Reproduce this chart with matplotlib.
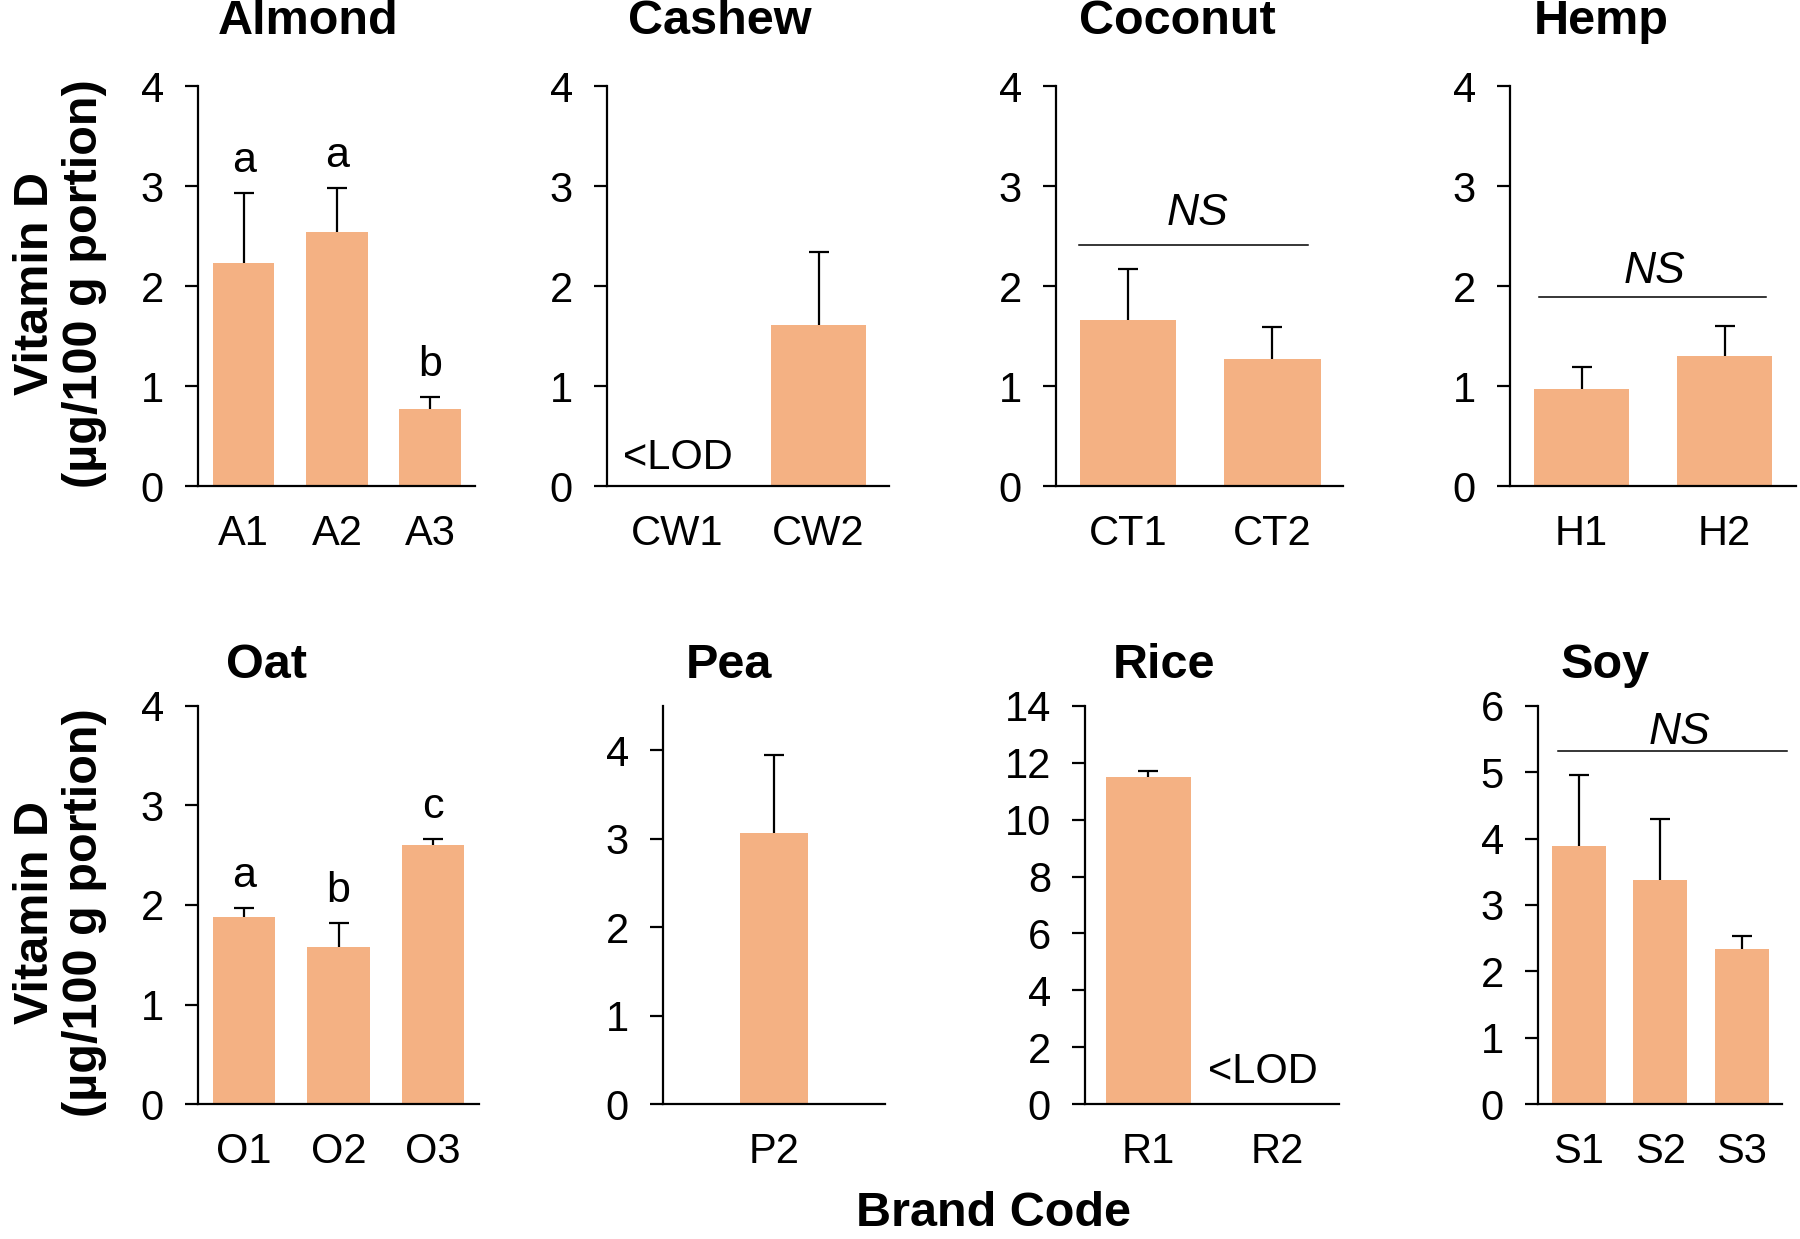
import matplotlib.pyplot as plt

plt.rcParams['font.family'] = ['Liberation Sans', 'DejaVu Sans']

BAR_COLOR = '#F4B183'
W, H = 1800, 1239

# ---- data ----
almond_codes = ['A1', 'A2', 'A3']
almond_vals = [2.23, 2.54, 0.77]
almond_err = [0.70, 0.44, 0.12]
almond_letters = ['a', 'a', 'b']

cashew_codes = ['CW1', 'CW2']
cashew_vals = [0.0, 1.61]
cashew_err = [0.0, 0.73]

coconut_codes = ['CT1', 'CT2']
coconut_vals = [1.66, 1.27]
coconut_err = [0.51, 0.32]

hemp_codes = ['H1', 'H2']
hemp_vals = [0.97, 1.30]
hemp_err = [0.22, 0.30]

oat_codes = ['O1', 'O2', 'O3']
oat_vals = [1.88, 1.58, 2.60]
oat_err = [0.09, 0.24, 0.06]
oat_letters = ['a', 'b', 'c']

pea_codes = ['P2']
pea_vals = [3.06]
pea_err = [0.89]

rice_codes = ['R1', 'R2']
rice_vals = [11.49, 0.0]
rice_err = [0.21, 0.0]

soy_codes = ['S1', 'S2', 'S3']
soy_vals = [3.89, 3.38, 2.34]
soy_err = [1.07, 0.92, 0.20]

# ---- layout: (left px, right px, top px, bottom px), xlim, bar width ----
ROW1 = (86, 486)
ROW2 = (706, 1104)
panels = [
    dict(title='Almond', tx=308, ty=22, box=(198, 475) + ROW1, xlim=(-0.49, 2.48), w=0.66,
         codes=almond_codes, vals=almond_vals, err=almond_err, ymax=4, yticks=range(0, 5),
         letters=almond_letters),
    dict(title='Cashew', tx=720, ty=22, box=(607, 889) + ROW1, xlim=(-0.5, 1.5), w=0.67,
         codes=cashew_codes, vals=cashew_vals, err=cashew_err, ymax=4, yticks=range(0, 5),
         lod=(0.0, 12)),
    dict(title='Coconut', tx=1177, ty=22, box=(1056, 1343) + ROW1, xlim=(-0.5, 1.49), w=0.67,
         codes=coconut_codes, vals=coconut_vals, err=coconut_err, ymax=4, yticks=range(0, 5),
         ns=(2.41, -0.34, 1.25, 2.61, 0.48)),
    dict(title='Hemp', tx=1601, ty=22, box=(1510, 1796) + ROW1, xlim=(-0.5, 1.5), w=0.67,
         codes=hemp_codes, vals=hemp_vals, err=hemp_err, ymax=4, yticks=range(0, 5),
         ns=(1.89, -0.30, 1.29, 2.03, 0.51)),
    dict(title='Oat', tx=267, ty=665, box=(198, 479) + ROW2, xlim=(-0.49, 2.49), w=0.66,
         codes=oat_codes, vals=oat_vals, err=oat_err, ymax=4, yticks=range(0, 5),
         letters=oat_letters),
    dict(title='Pea', tx=729, ty=665, box=(663, 885) + ROW2, xlim=(-1.0, 1.0), w=0.62,
         codes=pea_codes, vals=pea_vals, err=pea_err, ymax=4.5, yticks=range(0, 5)),
    dict(title='Rice', tx=1164, ty=665, box=(1085, 1339) + ROW2, xlim=(-0.49, 1.48), w=0.66,
         codes=rice_codes, vals=rice_vals, err=rice_err, ymax=14, yticks=range(0, 15, 2),
         lod=(0.89, 15)),
    dict(title='Soy', tx=1605, ty=665, box=(1538, 1782) + ROW2, xlim=(-0.5, 2.49), w=0.66,
         codes=soy_codes, vals=soy_vals, err=soy_err, ymax=6, yticks=range(0, 7),
         ns=(5.32, -0.25, 2.55, 5.43, 1.24)),
]

fig = plt.figure(figsize=(W / 100, H / 100), dpi=100)

for p in panels:
    l, r, t, b = p['box']
    ax = fig.add_axes([l / W, 1 - b / H, (r - l) / W, (b - t) / H])
    x = list(range(len(p['codes'])))
    ax.bar(x, p['vals'], p['w'], color=BAR_COLOR, zorder=2)
    # upper-only error bars with a cap at the top
    ex = [i for i in x if p['err'][i] > 0]
    lo = [p['vals'][i] for i in ex]
    hi = [p['vals'][i] + p['err'][i] for i in ex]
    ax.vlines(ex, lo, hi, color='black', lw=1.6, zorder=1)
    ax.plot(ex, hi, ls='none', marker='_', ms=14, mew=1.6, color='black', zorder=1)

    ax.set_xlim(*p['xlim'])
    ax.set_ylim(0, p['ymax'])
    ax.set_yticks(list(p['yticks']))
    ax.set_xticks(x)
    ax.set_xticklabels(p['codes'])
    for s in ['top', 'right']:
        ax.spines[s].set_visible(False)
    for s in ['left', 'bottom']:
        ax.spines[s].set_linewidth(1.6)
    ax.tick_params(axis='y', direction='out', length=9.5, width=1.6, labelsize=30, pad=15)
    ax.tick_params(axis='x', length=0, labelsize=30, pad=20)

    if 'letters' in p:
        for i, let in enumerate(p['letters']):
            ax.annotate(let, (i, p['vals'][i] + p['err'][i]), xytext=(0, 15),
                        textcoords='offset points', ha='center', va='baseline', fontsize=31)
    if 'lod' in p:
        lx, off = p['lod']
        ax.annotate('<LOD', (lx, 0), xytext=(0, off), textcoords='offset points',
                    ha='center', va='baseline', fontsize=30)
    if 'ns' in p:
        ly, x0, x1, ty, tx = p['ns']
        ax.plot([x0, x1], [ly, ly], color='black', lw=1.1, clip_on=False)
        ax.text(tx, ty, 'NS', ha='center', va='baseline', fontsize=32, style='italic')

    fig.text(p['tx'] / W, 1 - p['ty'] / H, p['title'], ha='center', va='center',
             fontsize=35, fontweight='bold')

for yc in [284, 913]:
    fig.text(60 / W, 1 - yc / H, 'Vitamin D\n(µg/100 g portion)', rotation=90,
             ha='center', va='center', fontsize=35, fontweight='bold', linespacing=1.12,
             multialignment='center')

fig.text(994 / W, 1 - 1213 / H, 'Brand Code', ha='center', va='center',
         fontsize=35, fontweight='bold')

fig.savefig('out.png', dpi=100)
